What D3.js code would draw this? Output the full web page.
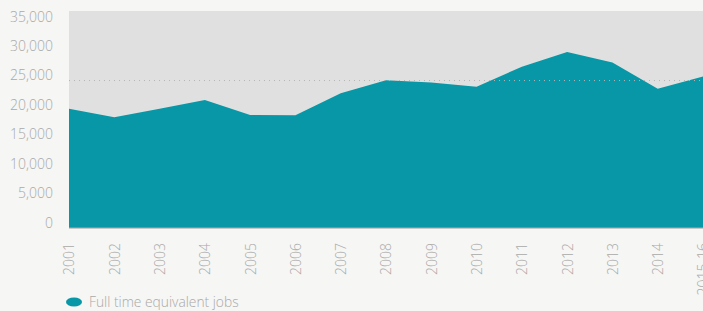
<!DOCTYPE html>
<html><head><meta charset="utf-8">
<script src="https://cdn.jsdelivr.net/npm/d3@7/dist/d3.min.js"></script>
<style>
html,body{margin:0;padding:0;background:#f6f6f4;}
svg{display:block;font-family:"Open Sans",sans-serif;}
</style></head>
<body>
<svg id="chart" width="703" height="311"></svg>
<script>
const categories = ["2001","2002","2003","2004","2005","2006","2007","2008","2009","2010","2011","2012","2013","2014","2015-16"];
const jobs = [20200,18750,20200,21700,19150,19100,22850,25050,24650,23950,27350,29850,28050,23600,25700];
const yTicks = [0,5000,10000,15000,20000,25000,30000,35000];
const referenceLine = 25000;
const seriesName = "Full time equivalent jobs";

const svg = d3.select("#chart");
const W = 703;
const left = 69, bottom = 227.7;
const x = d3.scalePoint().domain(categories).range([left, 703]);
const y = d3.scaleLinear().domain([0,35000]).range([bottom, 21.7]);

// plot background
svg.append("rect").attr("x", left).attr("y", 11).attr("width", W-left).attr("height", bottom-11).attr("fill", "#e0e0e0");

// area
const area = d3.area().x((d,i)=>x(categories[i])).y0(y(0)).y1(d=>y(d));
svg.append("path").datum(jobs).attr("d", area).attr("fill", "#0797a6");

// baseline
svg.append("line").attr("x1", left).attr("x2", W).attr("y1", bottom+0.8).attr("y2", bottom+0.8)
  .attr("stroke", "#c8c8c8").attr("stroke-width", 1);

// dotted reference line
svg.append("line").attr("x1", left).attr("x2", W).attr("y1", y(referenceLine)).attr("y2", y(referenceLine))
  .attr("stroke", "#b4b4b4").attr("stroke-width", 1).attr("stroke-dasharray", "1,4");

// y axis
const yAxis = d3.axisLeft(y).tickValues(yTicks).tickSize(0).tickPadding(0).tickFormat(d3.format(","));
const gy = svg.append("g").attr("transform", `translate(${53},0)`).call(yAxis);
gy.select(".domain").remove();
gy.selectAll("text").attr("fill", "#a9a9a9").attr("font-size", 14).attr("font-weight", 300)
  .attr("font-family", "Open Sans").attr("dy", "-0.05em");

// x axis
const xAxis = d3.axisBottom(x).tickSize(0).tickPadding(0);
const gx = svg.append("g").attr("transform", `translate(0,${243})`).call(xAxis);
gx.select(".domain").remove();
gx.selectAll("text").attr("fill", "#a9a9a9").attr("font-size", 14).attr("font-weight", 300)
  .attr("font-family", "Open Sans")
  .attr("transform", "rotate(-90)").attr("text-anchor", "end").attr("x", 0).attr("y", 0).attr("dy", "0.35em");

// legend
const lg = svg.append("g");
lg.append("ellipse").attr("cx", 74).attr("cy", 302).attr("rx", 8).attr("ry", 4.5).attr("fill", "#0797a6");
lg.append("text").attr("x", 89).attr("y", 306.5).text(seriesName)
  .attr("fill", "#a9a9a9").attr("font-size", 13.8).attr("font-weight", 300).attr("font-family", "Open Sans");
</script>
</body></html>
